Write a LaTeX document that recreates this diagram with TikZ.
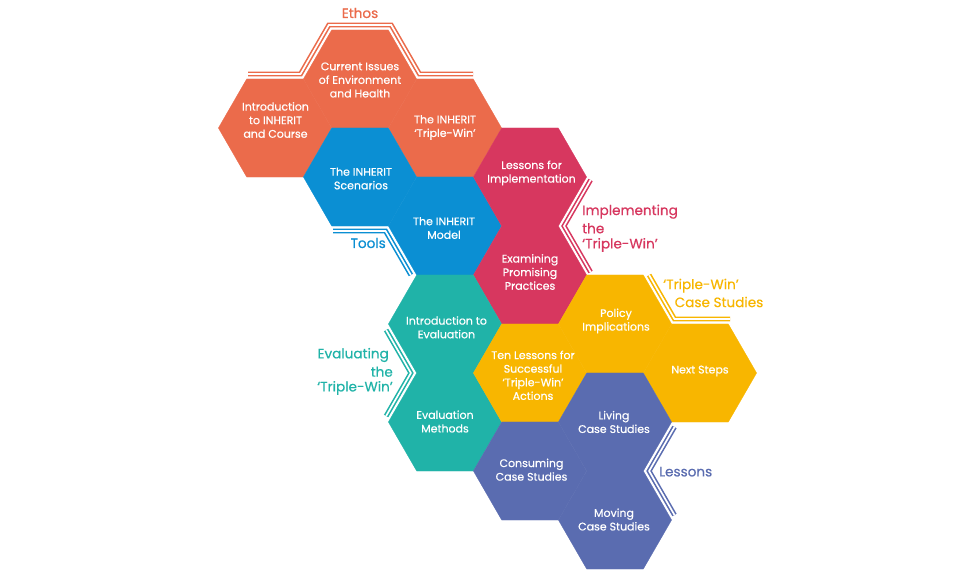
\documentclass[tikz,border=0pt]{standalone}
\usepackage{fontspec}
\setmainfont{Poppins}
\newfontfamily\medfont{Poppins}[FakeBold=0.5]
\usetikzlibrary{shapes.geometric}
\definecolor{ethosc}{HTML}{EB6B4B}
\definecolor{toolsc}{HTML}{0B8FD3}
\definecolor{implc}{HTML}{D7375F}
\definecolor{evalc}{HTML}{20B3A8}
\definecolor{casec}{HTML}{F8B600}
\definecolor{lessc}{HTML}{5A6CB0}
\tikzset{
  hexcell/.style={regular polygon, regular polygon sides=6, minimum size=113.2pt,
    inner sep=0pt, outer sep=0pt, draw=#1, fill=#1, line width=0.3pt},
  celltext/.style={text=white, align=center, inner sep=0pt,
    font=\medfont\fontsize{11}{13.6}\selectfont},
  bracket/.style={draw=#1, line width=1.6pt, double=white, double distance=1.7pt,
    line join=miter},
  grouplabel/.style={text=#1, inner sep=0pt, font=\medfont\fontsize{13.6}{16.5}\selectfont}
}
\begin{document}
\begin{tikzpicture}[x=1pt, y=-1pt]
\useasboundingbox[fill=white] (0,0) rectangle (956,578);
% hexagons
\node[hexcell=ethosc] (h1) at (275,128) {};
\node[hexcell=ethosc] (h2) at (360,79) {};
\node[hexcell=ethosc] (h3) at (445,128) {};
\node[hexcell=toolsc] (h4) at (360,177) {};
\node[hexcell=toolsc] (h5) at (445,226) {};
\node[hexcell=implc] (h6) at (530,177) {};
\node[hexcell=implc] (h7) at (530,275) {};
\node[hexcell=evalc] (h8) at (445,324) {};
\node[hexcell=evalc] (h9) at (445,422) {};
\node[hexcell=casec] (h10) at (615,324) {};
\node[hexcell=casec] (h11) at (530,373) {};
\node[hexcell=casec] (h12) at (700,373) {};
\node[hexcell=lessc] (h13) at (615,422) {};
\node[hexcell=lessc] (h14) at (530,471) {};
\node[hexcell=lessc] (h15) at (615,520) {};
% texts
\node[celltext] (t1) at (275.5,120) {Introduction\\to INHERIT\\and Course};
\node[celltext] (t2) at (360,80) {Current Issues\\of Environment\\and Health};
\node[celltext] (t3) at (445,127.5) {The INHERIT\\‘Triple-Win’};
\node[celltext] (t4) at (361,178.5) {The INHERIT\\Scenarios};
\node[celltext] (t5) at (444,228) {The INHERIT\\Model};
\node[celltext] (t6) at (531.5,173) {Lessons for\\Implementation};
\node[celltext] (t7) at (530,272) {Examining\\Promising\\Practices};
\node[celltext] (t8) at (446.5,327.3) {Introduction to\\Evaluation};
\node[celltext] (t9) at (445,421.5) {Evaluation\\Methods};
\node[celltext] (t10) at (616,321) {Policy\\Implications};
\node[celltext] (t11) at (533,375.3) {Ten Lessons for\\Successful\\‘Triple-Win’\\Actions};
\node[celltext] (t12) at (700,371) {Next Steps};
\node[celltext] (t13) at (614,422) {Living\\Case Studies};
\node[celltext] (t14) at (531.5,469.7) {Consuming\\Case Studies};
\node[celltext] (t15) at (614,519.5) {Moving\\Case Studies};
% brackets
\draw[bracket=ethosc] (248,74) -- (300.5,74) -- (328.8,25) -- (391.2,25) -- (419.5,74) -- (473,74);
\draw[bracket=toolsc] (333,231) -- (385.5,231) -- (410.9,275);
\draw[bracket=implc] (590.6,180) -- (564,226) -- (590.6,272);
\draw[bracket=casec] (649.1,275) -- (674.5,319) -- (730,319);
\draw[bracket=evalc] (386.1,330) -- (410.9,373) -- (386.1,416);
\draw[bracket=lessc] (674.5,427) -- (649.1,471) -- (674.5,515);
% group labels
\node[grouplabel=ethosc] (l1) at (360,13) {Ethos};
\node[grouplabel=toolsc, anchor=east] (l2) at (386,243) {Tools};
\node[grouplabel=implc, anchor=west] (l3a) at (582,211.7) {Implementing};
\node[grouplabel=implc, anchor=west] (l3b) at (582,228.3) {the};
\node[grouplabel=implc, anchor=west] (l3c) at (582,245) {‘Triple-Win’};
\node[grouplabel=casec] (l4a) at (701,285.7) {‘Triple-Win’};
\node[grouplabel=casec] (l4b) at (719,302) {Case Studies};
\node[grouplabel=evalc, anchor=east] (l5a) at (389,355) {Evaluating};
\node[grouplabel=evalc, anchor=east] (l5b) at (393,371.7) {the};
\node[grouplabel=evalc, anchor=east] (l5c) at (393,388) {‘Triple-Win’};
\node[grouplabel=lessc, anchor=west] (l6) at (659,471.7) {Lessons};
\end{tikzpicture}
\end{document}
